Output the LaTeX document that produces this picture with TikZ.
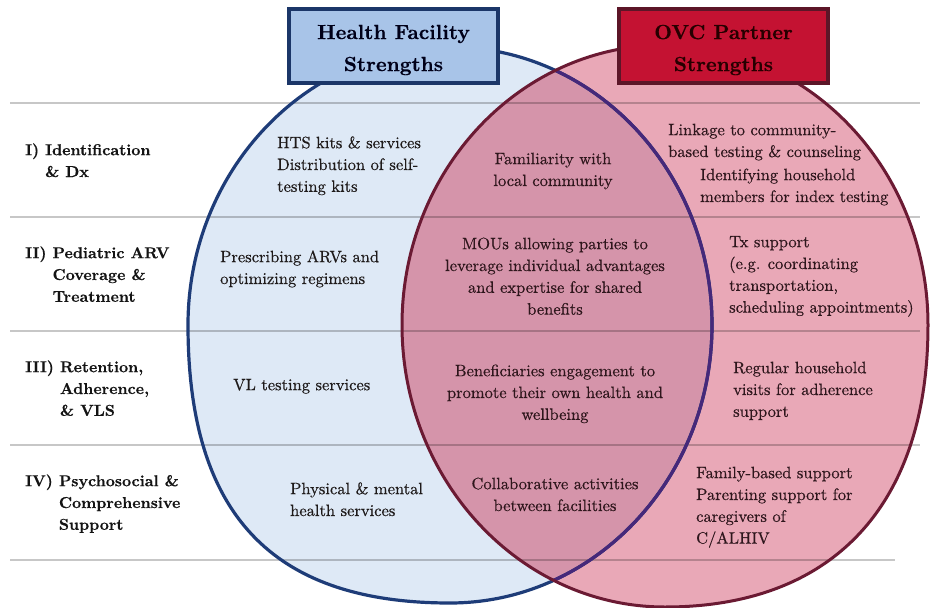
\documentclass[tikz,border=0pt]{standalone}
\usepackage{fontspec}
\newfontfamily\cellfont{lmroman10-regular.otf}[FakeBold=0.5]
\newfontfamily\boldfont{lmroman10-bold.otf}[FakeBold=0.3]
\definecolor{bluefill}{HTML}{DEE9F6}
\definecolor{pinkfill}{HTML}{E9A8B7}
\definecolor{overlapfill}{HTML}{D594AA}
\definecolor{bluestroke}{HTML}{1E3C78}
\definecolor{purplestroke}{HTML}{46287A}
\definecolor{pinkstroke}{HTML}{6B1A33}
\definecolor{hfboxfill}{HTML}{A8C4E8}
\definecolor{hfboxline}{HTML}{1B3668}
\definecolor{ovcboxfill}{HTML}{C41232}
\definecolor{ovcboxline}{HTML}{5C1628}
\definecolor{celltext}{HTML}{1E1A1A}
\definecolor{pinktext}{HTML}{2E161C}
\definecolor{labtext}{HTML}{141414}
\newcommand{\mystrut}{\rule{0pt}{13pt}}
\def\bluepath{(188,325) .. controls (188,171.5) and (305.3,47) .. (450,47) .. controls (594.7,47) and (712,171.5) .. (712,325) .. controls (712,478.5) and (594.7,603) .. (450,603) .. controls (271.8,603) and (188,514) .. (188,325) -- cycle}
\def\pinkpath{(402,325) .. controls (402,170.4) and (519.7,45) .. (665,45) .. controls (810.3,45) and (928,170.4) .. (928,325) .. controls (928,505) and (833,607) .. (665,607) .. controls (519.7,607) and (402,479.6) .. (402,325) -- cycle}
\begin{document}
\begin{tikzpicture}[x=1pt,y=-1pt,
  cell/.style={font=\cellfont\fontsize{16.5}{21.8}\selectfont, inner sep=0pt, text=celltext},
  lcell/.style={cell, anchor=north west, align=left},
  ccell/.style={cell, anchor=north, align=center},
  lab/.style={font=\boldfont\fontsize{15.8}{21.8}\selectfont, inner sep=0pt, text=labtext, align=left, anchor=north west},
  gridline/.style={draw=black, opacity=0.22, line width=1.8pt},
  titletext/.style={font=\boldfont\fontsize{20.5}{32}\selectfont, align=center, inner sep=0pt},
  hfbox/.style={draw=hfboxline, fill=hfboxfill, line width=4pt, minimum width=209pt, minimum height=74pt, inner sep=0pt},
  ovcbox/.style={draw=ovcboxline, fill=ovcboxfill, line width=4pt, minimum width=209pt, minimum height=74pt, inner sep=0pt}]
\useasboundingbox (0,0) rectangle (930,608);
\fill[white] (0,0) rectangle (930,608);
\clip (0,0) rectangle (930,608);
% fills
\fill[bluefill] \bluepath;
\fill[pinkfill] \pinkpath;
\begin{scope}
  \clip \bluepath;
  \fill[overlapfill] \pinkpath;
\end{scope}
% row lines
\draw[gridline] (10,103) -- (920,103);
\draw[gridline] (10,217) -- (920,217);
\draw[gridline] (10,331) -- (920,331);
\draw[gridline] (10,445) -- (920,445);
\draw[gridline] (10,560) -- (895,560);
% strokes
\draw[bluestroke, line width=3.2pt] \bluepath;
\begin{scope}
  \clip \pinkpath;
  \draw[purplestroke, line width=3.2pt] \bluepath;
\end{scope}
\draw[pinkstroke, line width=3pt] \pinkpath;
% title boxes
\node[hfbox] (hfbox) at (393.5,46) {};
\node[titletext, text=black!90!blue] (hftitle) at (393.5,50) {Health Facility\\Strengths};
\node[ovcbox] (ovcbox) at (723.5,46) {};
\node[titletext, text=black!85!red] (ovctitle) at (723.5,50) {OVC Partner\\Strengths};
% row labels
\node[lab] (lab1) at (25,142) {\mystrut I) Identification\\\hphantom{I) }\& Dx};
\node[lab] (lab2) at (25,245) {\mystrut II) Pediatric ARV\\\hphantom{II) }Coverage \&\\\hphantom{II) }Treatment};
\node[lab] (lab3) at (25,359) {\mystrut III) Retention,\\\hphantom{III) }Adherence,\\\hphantom{III) }\& VLS};
\node[lab] (lab4) at (25,473) {\mystrut IV) Psychosocial \&\\\hphantom{IV) }Comprehensive\\\hphantom{IV) }Support};
% health facility cells
\node[lcell] (b1) at (277,135) {\mystrut HTS kits \& services\\Distribution of self-\\testing kits};
\node[lcell] (b2) at (220,249) {\mystrut Prescribing ARVs and\\optimizing regimens};
\node[lcell] (b3) at (233,377) {\mystrut VL testing services};
\node[lcell] (b4) at (290,481) {\mystrut Physical \& mental\\health services};
% overlap cells
\node[ccell, text=pinktext] (o1) at (553,151) {\mystrut Familiarity with\\local community};
\node[ccell, text=pinktext] (o2) at (555,236) {\mystrut MOUs allowing parties to\\leverage individual advantages\\and expertise for shared\\benefits};
\node[ccell, text=pinktext] (o3) at (555,363) {\mystrut Beneficiaries engagement to\\promote their own health and\\wellbeing};
\node[ccell, text=pinktext] (o4) at (555,476) {\mystrut Collaborative activities\\between facilities};
% OVC cells
\node[lcell, text=pinktext] (p1a) at (668,122) {\mystrut Linkage to community-\\based testing \& counseling};
\node[lcell, text=pinktext] (p1b) at (700,167) {\mystrut Identifying household\\members for index testing};
\node[lcell, text=pinktext] (p2) at (729,234) {\mystrut Tx support\\(e.g. coordinating\\transportation,\\scheduling appointments)};
\node[lcell, text=pinktext] (p3) at (733,360) {\mystrut Regular household\\visits for adherence\\support};
\node[lcell, text=pinktext] (p4) at (696,465) {\mystrut Family-based support\\Parenting support for\\caregivers of\\C/ALHIV};
\end{tikzpicture}
\end{document}
